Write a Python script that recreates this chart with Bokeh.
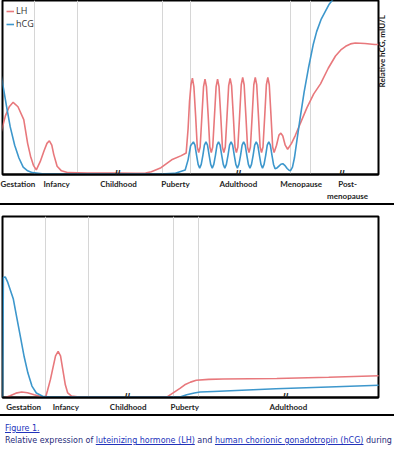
import math
from bokeh.plotting import figure
from bokeh.models import Range1d, FixedTicker, LabelSet, ColumnDataSource, Div, Legend, LegendItem
from bokeh.layouts import column
from bokeh.embed import file_html
from bokeh.resources import INLINE

# ---------------- data (x = position along life course, y = relative level) -------------
# Panel A (top)
top_stage_pos = [23, 68, 132, 191, 256, 321, 369]
top_stage_names = ["Gestation", "Infancy", "Childhood", "Puberty", "Adulthood", "Menopause", "Post-\nmenopause"]
top_bounds = [45, 90, 178, 206, 310, 331]
top_breaks = [131, 256, 363]

lh_top_x = [0, 4, 8, 15, 19, 23, 28, 34, 38, 41, 44, 47, 51, 55, 58, 60.5, 63, 65, 68.5, 73, 80, 100, 130, 150,
            160, 166, 176, 187, 197, 202,
            204, 205.5, 207, 208.5, 210, 211.8, 213.5, 215,
            216.5, 218.3, 220, 221.5, 223, 224.8, 226.5, 228,
            229.5, 231.3, 233, 234.5, 236, 237.8, 239.5, 241,
            242.5, 244.3, 246, 247.5, 249, 250.8, 252.5, 254,
            255.5, 257.3, 259, 260.5, 262, 263.8, 265.5, 267,
            268.5, 270.3, 272, 273.5, 275, 276.8, 278.5, 280,
            281.5, 283.3, 285, 286.5, 288, 289.8, 291.5, 293,
            295.5, 298, 300, 302, 304.5, 307,
            311, 315, 321, 327, 334, 341, 349, 356.5, 362, 367, 372, 377, 387, 397, 401]
lh_top_y = [3, 8, 18, 32, 37, 39.4, 37, 30, 17, 10, 5, 2.5, 7, 13, 17, 18.4, 16, 11, 4.5, 2, 1, 0.8, 0.8, 0.6,
            0.8, 1.5, 3.7, 8, 10.3, 11.7,
            25, 40, 49, 52.6, 48, 32, 15, 12,
            15, 32, 48, 52, 48, 32, 15, 12,
            15, 32, 48, 52, 48, 32, 15, 12,
            15, 32, 48.5, 52.5, 48.5, 32, 15, 12,
            15, 32, 49, 53, 49, 32, 15, 12,
            15, 32, 49, 53, 49, 32, 15, 12,
            15, 32, 49, 53, 49, 32, 15, 12,
            16, 21.5, 22.6, 21, 16, 13.8,
            17, 21.4, 29, 36.5, 44, 49.5, 58, 64.7, 68, 70, 71.3, 71.8, 71.5, 71, 71]

hcg_top_x = [0, 3, 6, 9, 13, 16.6, 20, 24.6, 29, 33.4, 38, 43, 53, 80, 120, 160, 180, 190, 201, 204, 206.6,
             209.5, 211.1, 212.8, 214.4, 216, 217.6, 219.3, 220.9,
             222.5, 224.1, 225.8, 227.4, 229, 230.6, 232.3, 233.9,
             235.5, 237.1, 238.8, 240.4, 242, 243.6, 245.3, 246.9,
             248.5, 250.1, 251.8, 253.4, 255, 256.6, 258.3, 259.9,
             261.5, 263.1, 264.8, 266.4, 268, 269.6, 271.3, 272.9,
             274.5, 276.1, 277.8, 279.4, 281, 282.6, 284.3, 285.9,
             287.5, 289.1, 290.8, 292.4, 294,
             296, 298, 300, 302, 304, 306.5, 308.5, 310,
             312, 314, 316.6, 320, 324, 328.5, 333.4, 337, 341.5, 346, 350, 356, 365, 401]
hcg_top_y = [82, 76, 67, 59, 47, 36, 26, 16, 9, 4, 2, 1, 0.4, 0.3, 0.3, 0.3, 0.4, 0.6, 2.5, 8, 15.7,
             17.8, 16, 10.5, 5.5, 3.5, 5.5, 10.5, 16,
             17.8, 16, 10.5, 5.5, 3.5, 5.5, 10.5, 16,
             17.8, 16, 10.5, 5.5, 3.5, 5.5, 10.5, 16,
             17.8, 16, 10.5, 5.5, 3.5, 5.5, 10.5, 16,
             17.8, 16, 10.5, 5.5, 3.5, 5.5, 10.5, 16,
             17.8, 16, 10.5, 5.5, 3.5, 5.5, 10.5, 16,
             17.8, 16, 10.5, 5.5, 3.2,
             3.6, 4.6, 5.6, 5.9, 5.0, 3.3, 2.3, 2.1,
             4, 9, 18.6, 31, 44.8, 58, 70.8, 78, 84.5, 89, 93, 97, 100, 100]

# Panel B (bottom)
bot_stage_pos = [22, 66, 131, 190, 298]
bot_stage_names = ["Gestation", "Infancy", "Childhood", "Puberty", "Adulthood"]
bot_bounds = [45, 90, 178, 204]
bot_breaks = [130, 295]

lh_bot_x = [3, 8, 14, 20, 26, 33, 40, 45, 47, 50, 52, 55.3, 58, 60.5, 63, 65.5, 68, 72, 80, 130, 172,
            185, 190, 196, 202, 215, 230, 286, 340, 393]
lh_bot_y = [0, 1, 2.4, 3, 2.6, 1.5, 0.5, 0.3, 4, 10, 15, 23, 25.5, 23, 15, 7, 2.5, 0.8, 0.3, 0.3, 0.5,
            5, 7, 8.5, 9.5, 10, 10.2, 10.5, 11.2, 12]

hcg_bot_x = [0, 0.5, 0.9, 3, 5.5, 11.2, 15, 18.8, 22.6, 26.5, 30.7, 35.3, 41.8, 50, 100, 150, 185, 192,
             200, 206, 220, 285, 340, 393]
hcg_bot_y = [0, 30, 66.4, 66.5, 63.6, 54.6, 43.9, 33.2, 22.5, 13.5, 6.3, 2.5, 0.7, 0.3, 0.2, 0.2, 0.3, 1.5,
             2.5, 3, 3.3, 4.8, 5.8, 6.8]

top_y_label = "Relative hCG, mIU/L"

LH_COLOR = "#e8787c"
HCG_COLOR = "#3d97cc"
GRID_COLOR = "#d6d6d6"
LABEL_FONT = "Lato"


def style_panel(p, stage_pos, stage_names, bounds, breaks):
    p.outline_line_color = "black"
    p.outline_line_width = 2
    p.background_fill_color = "white"
    p.border_fill_color = "white"
    p.ygrid.visible = False
    p.xgrid.ticker = FixedTicker(ticks=bounds)
    p.xgrid.grid_line_color = GRID_COLOR
    p.xgrid.grid_line_width = 1
    ax = p.xaxis[0]
    ax.ticker = FixedTicker(ticks=stage_pos)
    ax.major_label_overrides = {pos: name for pos, name in zip(stage_pos, stage_names)}
    ax.axis_line_color = "black"
    ax.axis_line_width = 2
    ax.major_tick_line_color = None
    ax.minor_tick_line_color = None
    ax.major_tick_out = 0
    ax.major_tick_in = 0
    ax.minor_tick_out = 0
    ax.minor_tick_in = 0
    ax.major_label_standoff = 4
    ax.major_label_text_font = LABEL_FONT
    ax.major_label_text_font_style = "bold"
    ax.major_label_text_font_size = "8px"
    ax.major_label_text_color = "#262626"
    src = ColumnDataSource(dict(x=breaks, y=[0] * len(breaks), t=["//"] * len(breaks)))
    p.add_layout(LabelSet(x="x", y="y", text="t", source=src, text_align="center",
                          text_baseline="middle", text_font_size="10px", text_font_style="bold",
                          text_color="#222222", level="overlay"))


# ---------------- top panel ----------------
p1 = figure(width=394, height=203, output_backend="svg", toolbar_location=None,
            x_range=Range1d(12, 401), y_range=Range1d(0, 95), y_axis_location="right",
            min_border_left=0, min_border_top=0, min_border_right=0, min_border_bottom=23)
style_panel(p1, top_stage_pos, top_stage_names, top_bounds, top_breaks)
ay = p1.yaxis[0]
ay.ticker = FixedTicker(ticks=[])
ay.axis_line_color = None
ay.major_tick_line_color = None
ay.minor_tick_line_color = None
ay.major_tick_out = 0
ay.minor_tick_out = 0
ay.major_label_standoff = 0
ay.axis_label = top_y_label
ay.axis_label_text_font = LABEL_FONT
ay.axis_label_text_font_style = "bold"
ay.axis_label_text_font_size = "8px"
ay.axis_label_text_color = "#1a1a1a"
ay.axis_label_standoff = 3
try:
    ay.axis_label_orientation = math.pi / 2
except Exception:
    pass

r_lh = p1.line(lh_top_x, lh_top_y, line_color=LH_COLOR, line_width=1.6)
r_hcg = p1.line(hcg_top_x, hcg_top_y, line_color=HCG_COLOR, line_width=1.6)
legend = Legend(items=[LegendItem(label="LH", renderers=[r_lh]),
                       LegendItem(label="hCG", renderers=[r_hcg])],
                location="top_left")
legend.border_line_color = None
legend.background_fill_alpha = 0
legend.label_text_font = "Open Sans"
legend.label_text_font_size = "9px"
legend.label_text_color = "#333333"
legend.glyph_width = 8
legend.glyph_height = 8
legend.label_height = 9
legend.label_standoff = 2
legend.spacing = 0
legend.padding = 0
legend.margin = 4
p1.add_layout(legend)

# ---------------- bottom panel ----------------
p2 = figure(width=394, height=213, output_backend="svg", toolbar_location=None,
            x_range=Range1d(0, 392), y_range=Range1d(0, 100), y_axis_location=None,
            min_border_left=2, min_border_top=11, min_border_right=0, min_border_bottom=21)
style_panel(p2, bot_stage_pos, bot_stage_names, bot_bounds, bot_breaks)
p2.line(lh_bot_x, lh_bot_y, line_color=LH_COLOR, line_width=1.6)
p2.line(hcg_bot_x, hcg_bot_y, line_color=HCG_COLOR, line_width=1.6)
p2.styles = {"border-top": "2px solid black", "border-bottom": "2px solid black", "box-sizing": "border-box"}

# ---------------- caption ----------------
caption = Div(width=394, height=26, text=(
    '<div style="font-family:\'DejaVu Sans\';font-size:8px;line-height:12px;white-space:nowrap;'
    'overflow:hidden;width:394px;height:26px;padding-top:2px;color:#1f2a7a;">'
    '<span style="color:#2233bb;text-decoration:underline;">Figure 1.</span><br>'
    'Relative expression of <span style="text-decoration:underline;color:#2233bb;">luteinizing hormone (LH)</span> and '
    '<span style="text-decoration:underline;color:#2233bb;">human chorionic gonadotropin (hCG)</span> during'
    '</div>'))

layout = column(p1, p2, caption, spacing=0)
open("out.html", "w").write(file_html(layout, INLINE))
